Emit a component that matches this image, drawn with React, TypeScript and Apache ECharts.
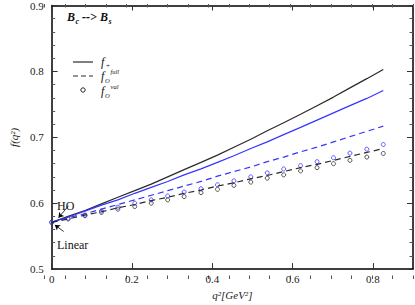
import React, { useEffect, useRef } from "react";
import * as echarts from "echarts";

// q^2 sample points (GeV^2)
const q2 = [0, 0.041, 0.083, 0.124, 0.165, 0.207, 0.248, 0.289, 0.33, 0.372, 0.413, 0.454, 0.496, 0.537, 0.578, 0.62, 0.661, 0.702, 0.743, 0.785, 0.826];

// f+ (solid)
const fPlusLinear = [0.571, 0.58, 0.589, 0.599, 0.609, 0.619, 0.629, 0.64, 0.651, 0.662, 0.673, 0.685, 0.697, 0.71, 0.722, 0.735, 0.748, 0.761, 0.775, 0.789, 0.803];
const fPlusHO = [0.571, 0.579, 0.588, 0.597, 0.605, 0.615, 0.624, 0.633, 0.643, 0.652, 0.662, 0.672, 0.683, 0.693, 0.704, 0.715, 0.726, 0.737, 0.748, 0.759, 0.771];

// f0 full (dashed)
const f0FullHO = [0.571, 0.578, 0.584, 0.591, 0.598, 0.605, 0.612, 0.619, 0.626, 0.633, 0.641, 0.648, 0.655, 0.663, 0.67, 0.678, 0.685, 0.693, 0.701, 0.709, 0.717];
const f0FullLinear = [0.571, 0.576, 0.582, 0.587, 0.593, 0.598, 0.604, 0.609, 0.615, 0.62, 0.626, 0.631, 0.637, 0.642, 0.648, 0.654, 0.659, 0.665, 0.671, 0.677, 0.683];

// f0 val (circles)
const f0ValHO = [0.571, 0.577, 0.582, 0.588, 0.594, 0.6, 0.605, 0.611, 0.617, 0.622, 0.628, 0.634, 0.64, 0.646, 0.652, 0.657, 0.663, 0.669, 0.676, 0.682, 0.689];
const f0ValLinear = [0.571, 0.576, 0.581, 0.586, 0.591, 0.595, 0.6, 0.605, 0.61, 0.616, 0.621, 0.627, 0.632, 0.638, 0.643, 0.649, 0.654, 0.66, 0.665, 0.67, 0.6755];

// annotation arrows (data coordinates): [tail, head]
const hoArrow = [[0.042, 0.596], [0.017, 0.578]];
const linearArrow = [[0.03, 0.557], [0.008, 0.567]];

const SERIF = "'Liberation Serif', 'Times New Roman', Times, serif";
const BLACK = "#2a2a2a";
const BLUE = "#3535ff";

export default function App() {
  const ref = useRef<HTMLDivElement>(null);
  useEffect(() => {
    const chart = echarts.init(ref.current!, null, { renderer: "svg" });
    const pair = (ys: number[]) => q2.map((x, i) => [x, ys[i]]);
    const labelStyle = { fontFamily: SERIF, fontSize: 11, color: "#222" };
    const axisLine = { show: true, onZero: false, lineStyle: { color: "#000", width: 1.5 } };
    const txt = (x: number, y: number, text: string, size: number, opts: any = {}) => ({
      type: "text",
      x,
      y,
      style: {
        text,
        fontFamily: SERIF,
        fontSize: size,
        fontStyle: opts.italic ? "italic" : "normal",
        fontWeight: opts.bold ? "bold" : "normal",
        fill: "#111",
        textAlign: "left",
        textVerticalAlign: "middle",
        align: "left",
        verticalAlign: "middle",
      },
    });
    chart.setOption({
      animation: false,
      grid: [
        { left: 44.5, right: 2, top: 4, bottom: 26 },
        { left: 44.5, right: 2, top: 4, bottom: 26 },
      ],
      xAxis: [
        {
          gridIndex: 0,
          type: "value",
          position: "bottom",
          min: 0,
          max: 0.9,
          interval: 0.2,
          axisLine,
          axisTick: { inside: true, length: 6, lineStyle: { color: "#333" } },
          axisLabel: {
            showMaxLabel: false,
            margin: 4,
            formatter: (v: number) => (v === 0 ? "0" : v.toFixed(1)),
            ...labelStyle,
          },
          splitLine: { show: false },
          name: "q²[GeV²]",
          nameLocation: "middle",
          nameGap: 14,
          nameTextStyle: { fontFamily: SERIF, fontStyle: "italic", fontSize: 11, color: "#222" },
        },
        {
          gridIndex: 0,
          type: "value",
          position: "top",
          min: 0,
          max: 0.9,
          interval: 0.2,
          axisLine,
          axisTick: { inside: true, length: 5, lineStyle: { color: "#333" } },
          axisLabel: { show: false },
          splitLine: { show: false },
        },
        {
          gridIndex: 1,
          type: "value",
          position: "bottom",
          min: 0,
          max: 0.9,
          interval: 0.05,
          axisLine: { show: false },
          axisTick: { inside: true, length: 3.5, lineStyle: { color: "#555" } },
          axisLabel: { show: false },
          splitLine: { show: false },
        },
        {
          gridIndex: 1,
          type: "value",
          position: "top",
          min: 0,
          max: 0.9,
          interval: 0.05,
          axisLine: { show: false },
          axisTick: { inside: true, length: 3.5, lineStyle: { color: "#555" } },
          axisLabel: { show: false },
          splitLine: { show: false },
        },
      ],
      yAxis: [
        {
          gridIndex: 0,
          type: "value",
          position: "left",
          min: 0.5,
          max: 0.9,
          interval: 0.1,
          axisLine,
          axisTick: { inside: true, length: 6, lineStyle: { color: "#333" } },
          minorTick: { show: true, splitNumber: 5, length: 3.5, lineStyle: { color: "#555" } },
          axisLabel: { margin: 8, formatter: (v: number) => v.toFixed(1), ...labelStyle },
          splitLine: { show: false },
          name: "f(q²)",
          nameLocation: "middle",
          nameRotate: 90,
          nameGap: 27,
          nameTextStyle: { fontFamily: SERIF, fontStyle: "italic", fontSize: 11, color: "#222" },
        },
        {
          gridIndex: 0,
          type: "value",
          position: "right",
          min: 0.5,
          max: 0.9,
          interval: 0.1,
          axisLine,
          axisTick: { inside: true, length: 6, lineStyle: { color: "#333" } },
          minorTick: { show: true, splitNumber: 5, length: 3.5, lineStyle: { color: "#555" } },
          axisLabel: { show: false },
          splitLine: { show: false },
        },
        { gridIndex: 1, type: "value", show: false, min: 0.5, max: 0.9 },
      ],
      series: [
        {
          type: "line",
          name: "f+ Linear",
          data: pair(fPlusLinear),
          showSymbol: false,
          lineStyle: { color: BLACK, width: 1.2 },
          markLine: {
            silent: true,
            symbol: ["none", "arrow"],
            symbolSize: 5,
            label: { show: false },
            lineStyle: { color: "#000", width: 0.8, type: "solid" },
            data: [
              [{ coord: hoArrow[0] }, { coord: hoArrow[1] }],
              [{ coord: linearArrow[0] }, { coord: linearArrow[1] }],
            ],
          },
        },
        {
          type: "line",
          name: "f+ HO",
          data: pair(fPlusHO),
          showSymbol: false,
          lineStyle: { color: BLUE, width: 1.2 },
        },
        {
          type: "line",
          name: "f0 full HO",
          data: pair(f0FullHO),
          showSymbol: false,
          lineStyle: { color: BLUE, width: 1.2, type: [6, 4] },
        },
        {
          type: "line",
          name: "f0 full Linear",
          data: pair(f0FullLinear),
          showSymbol: false,
          lineStyle: { color: BLACK, width: 1.2, type: [6, 4] },
        },
        {
          type: "scatter",
          name: "f0 val Linear",
          data: pair(f0ValLinear),
          symbol: "circle",
          symbolSize: 4,
          itemStyle: { color: "rgba(0,0,0,0)", borderColor: BLACK, borderWidth: 1 },
        },
        {
          type: "scatter",
          name: "f0 val HO",
          data: pair(f0ValHO),
          symbol: "circle",
          symbolSize: 4,
          itemStyle: { color: "rgba(0,0,0,0)", borderColor: BLUE, borderWidth: 1 },
        },
      ],
      graphic: [
        // title
        txt(67, 17, "B", 12, { italic: true, bold: true }),
        txt(75.5, 21, "c", 8, { italic: true, bold: true }),
        txt(82, 17, "-->", 12, { italic: true, bold: true }),
        txt(100, 17, "B", 12, { italic: true, bold: true }),
        txt(108.5, 21, "s", 8, { italic: true, bold: true }),
        // legend
        { type: "line", shape: { x1: 73, y1: 62, x2: 93, y2: 62 }, style: { stroke: BLACK, lineWidth: 1.2 } },
        txt(101, 62, "f", 12, { italic: true }),
        txt(105.5, 65.5, "+", 7, { italic: true }),
        { type: "line", shape: { x1: 73, y1: 76, x2: 93, y2: 76 }, style: { stroke: BLACK, lineWidth: 1.2, lineDash: [5, 3] } },
        txt(101, 76, "f", 12, { italic: true }),
        txt(105, 80.5, "O", 6.5, { italic: true }),
        txt(110.5, 71, "full", 6.5, { italic: true }),
        { type: "circle", shape: { cx: 83, cy: 90, r: 2.2 }, style: { fill: "none", stroke: BLACK, lineWidth: 1 } },
        txt(101, 91, "f", 12, { italic: true }),
        txt(105, 95.5, "O", 6.5, { italic: true }),
        txt(110.5, 86, "val", 6.5, { italic: true }),
        // annotations
        txt(57, 206, "HO", 12),
        txt(57, 245, "Linear", 12),
      ],
    });
    return () => chart.dispose();
  }, []);
  return <div ref={ref} style={{ width: 415, height: 305, position: "absolute", left: 0, top: 0 }} />;
}
